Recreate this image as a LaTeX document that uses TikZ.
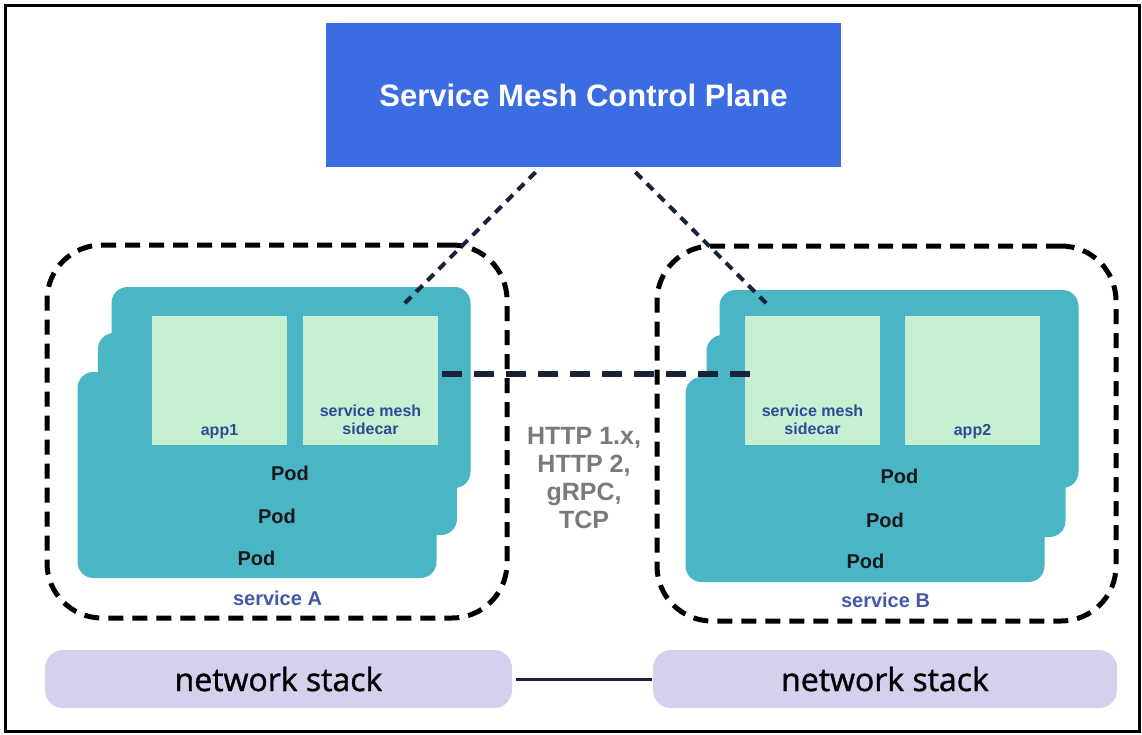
\documentclass[tikz,border=0pt]{standalone}
\usepackage{fontspec}
\setmainfont{Liberation Sans}
\newfontfamily\netfont[FakeBold=1.2]{Open Sans}
\usepackage{xcolor}
\usepackage{tikz}
\usetikzlibrary{positioning,calc}

\definecolor{planeblue}{RGB}{59,108,226}
\definecolor{podteal}{RGB}{74,181,197}
\definecolor{appgreen}{RGB}{199,239,210}
\definecolor{stacklav}{RGB}{212,209,238}
\definecolor{labelblue}{RGB}{48,74,148}
\definecolor{svcblue}{RGB}{70,86,168}
\definecolor{linknavy}{RGB}{26,34,58}
\definecolor{protogray}{RGB}{122,122,122}

\begin{document}
\begin{tikzpicture}[x=1pt,y=-1pt,
  plane/.style={rectangle,fill=planeblue,text=white,inner sep=0pt,minimum width=515pt,minimum height=144pt,font=\bfseries\fontsize{31}{36}\selectfont},
  svc/.style={rectangle,draw=black,line width=5pt,dash pattern=on 15pt off 9pt,rounded corners=55pt,inner sep=0pt},
  pod/.style={rectangle,fill=podteal,rounded corners=16pt,inner sep=0pt,minimum width=359pt},
  ctr/.style={rectangle,fill=appgreen,inner sep=0pt,minimum width=135pt,minimum height=129pt},
  ctrtext/.style={text=labelblue,font=\bfseries\fontsize{16}{18}\selectfont,align=center,inner sep=0pt},
  podtext/.style={text=black!90,font=\bfseries\fontsize{20}{24}\selectfont,inner sep=0pt,anchor=base},
  svctext/.style={text=svcblue,font=\bfseries\fontsize{20}{24}\selectfont,inner sep=0pt,anchor=base},
  proto/.style={text=protogray,font=\bfseries\fontsize{25}{28}\selectfont,align=center,inner sep=0pt},
  stack/.style={rectangle,fill=stacklav,rounded corners=18pt,minimum height=58pt,inner sep=0pt,font=\netfont\fontsize{32}{36}\selectfont},
  ctl/.style={draw=linknavy,line width=4pt,dash pattern=on 9pt off 7pt},
  data/.style={draw=linknavy,line width=6pt,dash pattern=on 20pt off 12pt},
  wire/.style={draw=linknavy,line width=3pt}
]
\useasboundingbox (0,0) rectangle (1142,734);
\draw[line width=3pt] (5.5,5.5) rectangle (1139.5,731.5);

\node[plane] (cp) at (583.5,95) {Service Mesh Control Plane};

\node[svc,minimum width=460pt,minimum height=373pt] (svcA) at (277,431.5) {};
\node[svc,minimum width=459pt,minimum height=375pt] (svcB) at (886.5,433.5) {};

\node[pod,minimum height=201pt] (podA1) at (291,387.5) {};
\node[pod,minimum height=202pt] (podA2) at (277.5,434) {};
\node[pod,minimum height=206pt] (podA3) at (257,475) {};
\node[pod,minimum height=198pt] (podB1) at (899,389) {};
\node[pod,minimum height=202pt] (podB2) at (886,436) {};
\node[pod,minimum height=205pt] (podB3) at (865,479.5) {};

\node[ctr] (app1) at (219.5,380.5) {};
\node[ctr] (sideA) at (370.5,380.5) {};
\node[ctr] (sideB) at (812.5,380.5) {};
\node[ctr] (app2) at (972.5,380.5) {};

\node[ctrtext,anchor=base] (app1t) at (219.5,435) {app1};
\node[ctrtext] (sideAt) at (370.5,420) {service mesh\\sidecar};
\node[ctrtext] (sideBt) at (812.5,420) {service mesh\\sidecar};
\node[ctrtext,anchor=base] (app2t) at (972.5,435) {app2};

\node[podtext] (podA1t) at (290,480) {Pod};
\node[podtext] (podA2t) at (277,523) {Pod};
\node[podtext] (podA3t) at (256.5,565) {Pod};
\node[podtext] (podB1t) at (899.5,483) {Pod};
\node[podtext] (podB2t) at (885,527) {Pod};
\node[podtext] (podB3t) at (865.5,568) {Pod};

\node[svctext] (svcAt) at (277.5,605) {service A};
\node[svctext] (svcBt) at (885.5,607) {service B};

\node[proto] (protos) at (584,478) {HTTP 1.x,\\HTTP 2,\\gRPC,\\TCP};

\node[stack,minimum width=467pt] (netA) at (278.5,679) {network stack};
\node[stack,minimum width=464pt] (netB) at (885,679) {network stack};

\coordinate (tipA) at (403,305);
\coordinate (tipB) at (770,307);
\draw[ctl] ([xshift=-48pt,yshift=-5pt]cp.south) -- (tipA);
\draw[ctl] ([xshift=52pt,yshift=-5pt]cp.south) -- (tipB);
\draw[data,shorten <=4pt] ([yshift=6.5pt]sideA.east) -- ([xshift=5pt,yshift=6.5pt]sideB.west);
\draw[wire,shorten <=4pt,shorten >=1pt] (netA) -- (netB);
\end{tikzpicture}
\end{document}
